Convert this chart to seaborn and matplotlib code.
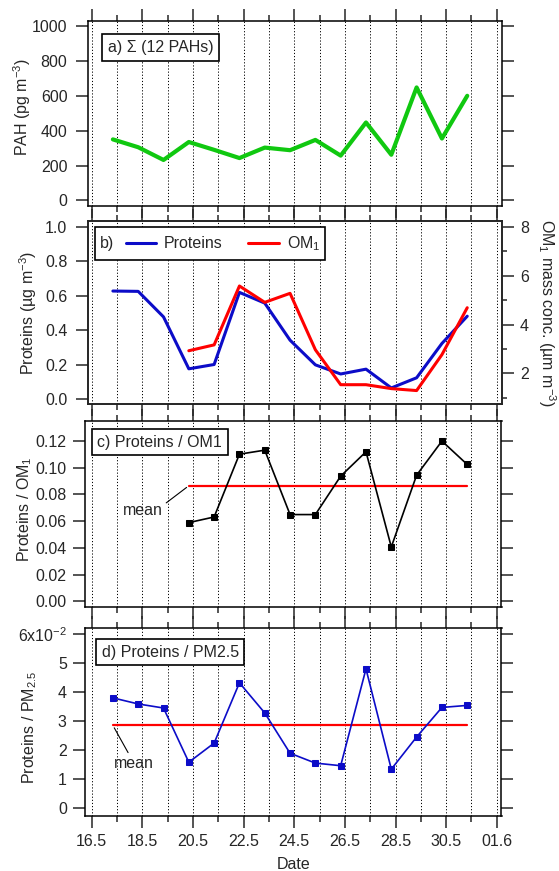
import numpy as np
import pandas as pd
import matplotlib
matplotlib.use("Agg")
import matplotlib.pyplot as plt
import matplotlib.dates as mdates
from matplotlib.ticker import FixedLocator, FixedFormatter, MultipleLocator, FormatStrFormatter
from matplotlib.patches import Rectangle
import seaborn as sns

# ---------------------------------------------------------------- data
sample_times = [
    "2013-05-16 20:00", "2013-05-17 20:00", "2013-05-18 20:00", "2013-05-19 20:00",
    "2013-05-20 20:00", "2013-05-21 20:00", "2013-05-22 20:00", "2013-05-23 20:00",
    "2013-05-24 20:00", "2013-05-25 20:00", "2013-05-26 20:00", "2013-05-27 20:00",
    "2013-05-28 20:00", "2013-05-29 20:00", "2013-05-30 20:00",
]
pah_sum = [350, 305, 232, 335, 290, 243, 303, 288, 347, 257, 447, 262, 648, 355, 600]
proteins = [0.626, 0.624, 0.476, 0.175, 0.200, 0.618, 0.556, 0.341, 0.198,
            0.145, 0.173, 0.064, 0.123, 0.322, 0.480]
om1 = [np.nan, np.nan, np.nan, 2.93, 3.17, 5.58, 4.91, 5.28, 2.97,
       1.54, 1.54, 1.38, 1.30, 2.77, 4.69]
proteins_om1 = [np.nan, np.nan, np.nan, 0.0589, 0.0631, 0.110, 0.113, 0.0649, 0.0649,
                0.0936, 0.1118, 0.0407, 0.0943, 0.1198, 0.1023]
proteins_pm25 = [0.0381, 0.0360, 0.0346, 0.0159, 0.0225, 0.0433, 0.0329, 0.0190,
                 0.0156, 0.0147, 0.0481, 0.0135, 0.0246, 0.0348, 0.0355]

date_tick_labels = ["16.5", "18.5", "20.5", "22.5", "24.5", "26.5", "28.5", "30.5", "01.6"]
ratio_pm_ticks = [0.0, 0.01, 0.02, 0.03, 0.04, 0.05, 0.06]
ratio_pm_tick_labels = ["0", "1", "2", "3", "4", "5", r"6x10$^{\mathregular{-2}}$"]

df = pd.DataFrame({
    "time": pd.to_datetime(sample_times),
    "pah": pah_sum,
    "proteins": proteins,
    "om1": om1,
    "p_om1": proteins_om1,
    "p_pm25": proteins_pm25,
})

# ---------------------------------------------------------------- style
sns.set_style("ticks")
plt.rcParams["font.family"] = ["Liberation Sans", "DejaVu Sans"]
plt.rcParams["mathtext.default"] = "regular"
FS = 11.5
plt.rcParams["font.size"] = FS

GREEN = "#10C810"
BLUE = "#0C0CC8"
RED = "#FF0000"

W, H = 559, 871
fig = plt.figure(figsize=(W / 100, H / 100), dpi=100, facecolor="white")


def rect(l, t, r, b):
    return [l / W, 1 - b / H, (r - l) / W, (b - t) / H]


def fpt(x, y):
    return (x / W, 1 - y / H)


# horizontal date scale shared by all panels
X0 = 91.8          # pixel column of 16.5 00:00
PPD = 25.31        # pixels per day
RIGHT = 501.5
t0 = mdates.date2num(pd.Timestamp("2013-05-16"))


def parse_tick(lbl):
    d, m = lbl.split(".")
    return mdates.date2num(pd.Timestamp(year=2013, month=int(m), day=int(d)))


major_pos = [parse_tick(s) for s in date_tick_labels]
minor_pos = list(mdates.date2num(pd.date_range(pd.Timestamp("2013-05-16"),
                                               pd.Timestamp("2013-06-01"), freq="D")))


def make_axes(l, t, r, b):
    ax = fig.add_axes(rect(l, t, r, b))
    ax._px = (l, t, r, b)
    return ax


def style_axes(ax, ypad, bottom_labels=False, right_ticks=True):
    l, t, r, b = ax._px
    ax.set_xlim(t0 + (l - X0) / PPD, t0 + (r - X0) / PPD)
    ax.xaxis.set_major_locator(FixedLocator(major_pos))
    ax.xaxis.set_minor_locator(FixedLocator(minor_pos))
    if bottom_labels:
        ax.xaxis.set_major_formatter(FixedFormatter(date_tick_labels))
    ax.tick_params(axis="x", which="both", direction="out", top=True, bottom=True,
                   labelbottom=bottom_labels, width=1.1, pad=5, labelsize=FS)
    ax.tick_params(axis="x", which="major", length=8.3)
    ax.tick_params(axis="x", which="minor", length=4.3)
    ax.tick_params(axis="y", which="major", direction="out", left=True, right=right_ticks,
                   length=8.8, width=1.1, pad=ypad, labelsize=FS)
    ax.grid(True, axis="x", which="both", linestyle=(0, (1.2, 2.0)), color="black", lw=0.7)
    ax.grid(False, axis="y")
    ax.set_axisbelow(True)
    for s in ax.spines.values():
        s.set_visible(True)
        s.set_linewidth(1.1)
        s.set_color("black")
    ax.set_xlabel("")


def place_ylabel(ax, text, x, y, rotation=90, axis=None, side="left"):
    l, t, r, b = ax._px
    target = axis if axis is not None else ax
    lab = target.set_ylabel(text, fontsize=FS, rotation=rotation)
    target.yaxis.set_label_position(side)
    target.yaxis.set_label_coords((x - l) / (r - l), (b - y) / (b - t))
    lab.set_rotation(rotation)
    lab.set_verticalalignment("center")
    lab.set_horizontalalignment("center")


def panel_label(text, x, y):
    fig.text(x / W, 1 - y / H, text, ha="left", va="center", fontsize=FS, zorder=10,
             bbox=dict(boxstyle="square,pad=0.36", fc="white", ec="black", lw=1.2))


# ---------------------------------------------------------------- a) PAH
ax_a = make_axes(88, 21, RIGHT, 206)
sns.lineplot(data=df, x="time", y="pah", ax=ax_a, color=GREEN, lw=3.0,
             estimator=None, sort=False)
ax_a.set_ylim(-32, 1029)
ax_a.yaxis.set_major_locator(MultipleLocator(200))
ax_a.yaxis.set_major_formatter(FormatStrFormatter("%d"))
style_axes(ax_a, ypad=6.0)
place_ylabel(ax_a, "PAH (pg m$^{-3}$)", 22.3, 107.5)
panel_label("a) \u03A3 (12 PAHs)", 108.0, 47.3)

# ---------------------------------------------------------------- b) Proteins and OM1
ax_b = make_axes(88, 221, RIGHT, 404)
sns.lineplot(data=df, x="time", y="proteins", ax=ax_b, color=BLUE, lw=2.2,
             estimator=None, sort=False)
line_prot = ax_b.lines[-1]
ax_b.set_ylim(-0.029, 1.032)
ax_b.yaxis.set_major_locator(MultipleLocator(0.2))
ax_b.yaxis.set_major_formatter(FormatStrFormatter("%.1f"))
style_axes(ax_b, ypad=6.0, right_ticks=False)
place_ylabel(ax_b, "Proteins (\u00B5g m$^{-3}$)", 27.7, 313)

ax_b2 = ax_b.twinx()
ax_b2._px = ax_b._px
sns.lineplot(data=df.dropna(subset=["om1"]), x="time", y="om1", ax=ax_b2, color=RED,
             lw=2.2, estimator=None, sort=False)
line_om = ax_b2.lines[-1]
ax_b2.set_xlim(ax_b.get_xlim())
ax_b2.set_ylim(0.75, 8.24)
ax_b2.yaxis.set_major_locator(MultipleLocator(2))
ax_b2.yaxis.set_minor_locator(MultipleLocator(1))
ax_b2.yaxis.set_major_formatter(FormatStrFormatter("%d"))
ax_b2.tick_params(axis="y", which="major", direction="out", right=True, left=False,
                  length=8.4, width=1.1, pad=5, labelsize=FS)
ax_b2.tick_params(axis="y", which="minor", direction="out", right=True, left=False,
                  length=3.8, width=1.1)
ax_b2.grid(False)
for s in ax_b2.spines.values():
    s.set_linewidth(1.1)
place_ylabel(ax_b, "OM$_1$ mass conc. (\u00B5m m$^{-3}$)", 546.5, 312.5,
             rotation=-90, axis=ax_b2, side="right")

# legend box with the panel tag
ax_b2.add_patch(Rectangle(fpt(94.6, 260.0), (325.0 - 94.6) / W, (260.0 - 227.3) / H,
                          transform=fig.transFigure, fc="white", ec="black", lw=1.2,
                          zorder=8, clip_on=False))
fig.text(100 / W, 1 - 243.7 / H, "b)", ha="left", va="center", fontsize=FS, zorder=10)
leg = ax_b2.legend([line_prot, line_om], ["Proteins", "OM$_1$"], loc="center left",
                   bbox_to_anchor=fpt(125.7, 243.7), bbox_transform=fig.transFigure,
                   frameon=False, ncol=2, handlelength=1.92, handletextpad=0.48,
                   columnspacing=1.6, borderpad=0, borderaxespad=0, fontsize=FS)
leg.set_zorder(11)

# ---------------------------------------------------------------- c) Proteins / OM1
ax_c = make_axes(84.7, 420.7, RIGHT, 606.7)
dc = df.dropna(subset=["p_om1"])
mean_c = float(np.mean(dc["p_om1"]))
sns.lineplot(x=[dc["time"].iloc[0], dc["time"].iloc[-1]], y=[mean_c, mean_c], ax=ax_c,
             color=RED, lw=1.6, estimator=None)
sns.lineplot(data=dc, x="time", y="p_om1", ax=ax_c, color="black", lw=1.2,
             marker="s", markersize=5.0, markeredgecolor="black", estimator=None, sort=False)
ax_c.set_ylim(-0.0039, 0.135)
ax_c.yaxis.set_major_locator(MultipleLocator(0.02))
ax_c.yaxis.set_major_formatter(FormatStrFormatter("%.2f"))
style_axes(ax_c, ypad=4.1)
place_ylabel(ax_c, "Proteins / OM$_1$", 25.0, 509)
panel_label("c) Proteins / OM1", 97.3, 442.2)
ax_c.annotate("mean", xy=(mdates.date2num(dc["time"].iloc[0]), mean_c),
              xytext=(-45.8, -24.9), textcoords="offset pixels", ha="center", va="center",
              fontsize=FS,
              arrowprops=dict(arrowstyle="-", lw=0.8, color="black", shrinkA=0, shrinkB=2,
                              relpos=(1.0, 0.85)))

# ---------------------------------------------------------------- d) Proteins / PM2.5
ax_d = make_axes(84.7, 628.3, RIGHT, 816)
mean_d = float(np.mean(df["p_pm25"]))
sns.lineplot(x=[df["time"].iloc[0], df["time"].iloc[-1]], y=[mean_d, mean_d], ax=ax_d,
             color=RED, lw=1.6, estimator=None)
sns.lineplot(data=df, x="time", y="p_pm25", ax=ax_d, color=BLUE, lw=1.2,
             marker="s", markersize=5.0, markeredgecolor=BLUE, estimator=None, sort=False)
ax_d.set_ylim(-0.00265, 0.0621)
ax_d.yaxis.set_major_locator(FixedLocator(ratio_pm_ticks))
ax_d.yaxis.set_major_formatter(FixedFormatter(ratio_pm_tick_labels))
style_axes(ax_d, ypad=4.1, bottom_labels=True)
place_ylabel(ax_d, "Proteins / PM$_{2.5}$", 29.2, 727.5)
panel_label("d) Proteins / PM2.5", 101.6, 652.2)
ax_d.annotate("mean", xy=(mdates.date2num(df["time"].iloc[0]), mean_d),
              xytext=(21, -38), textcoords="offset pixels", ha="center", va="center",
              fontsize=FS,
              arrowprops=dict(arrowstyle="-", lw=0.8, color="black", shrinkA=0, shrinkB=2,
                              relpos=(0.4, 1.0)))
xl = ax_d.set_xlabel("Date", fontsize=FS)
l, t, r, b = ax_d._px
ax_d.xaxis.set_label_coords((293.8 - l) / (r - l), (b - 864) / (b - t))
xl.set_verticalalignment("center")

fig.savefig("out.png", dpi=100, facecolor="white")
